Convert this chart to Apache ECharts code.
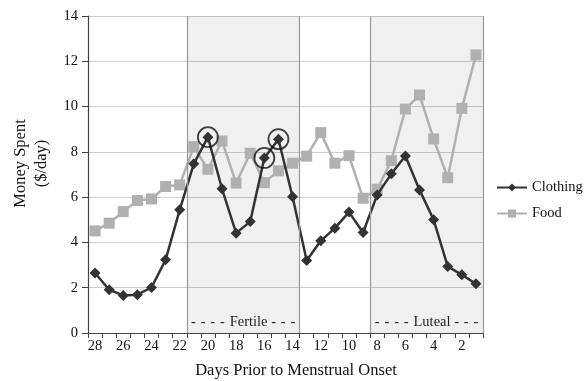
<!DOCTYPE html>
<html>
<head>
<meta charset="utf-8">
<script src="https://cdn.jsdelivr.net/npm/echarts@6/dist/echarts.min.js"></script>
<style>html,body{margin:0;padding:0;background:#fff}#c{width:586px;height:381px}</style>
</head>
<body>
<div id="c"></div>
<script>
var days = [28,27,26,25,24,23,22,21,20,19,18,17,16,15,14,13,12,11,10,9,8,7,6,5,4,3,2,1];
var clothing = [2.65,1.91,1.66,1.69,2.01,3.23,5.44,7.47,8.65,6.37,4.41,4.92,7.73,8.56,6.02,3.2,4.07,4.63,5.34,4.44,6.1,7.03,7.82,6.32,5.0,2.94,2.57,2.17];
var food = [4.51,4.85,5.36,5.85,5.92,6.47,6.54,8.23,7.23,8.48,6.62,7.94,6.64,7.16,7.5,7.81,8.85,7.5,7.83,5.95,6.35,7.61,9.89,10.51,8.57,6.86,9.92,12.28];
var circledDays = [20,16,15];
var yTicks = [0,2,4,6,8,10,12,14];
var phases = [
  {name: '-\u200A -\u200A -\u200A -\u200A Fertile -\u200A -\u200A -', from: 21, to: 14},
  {name: '-\u200A -\u200A -\u200A -\u200A Luteal -\u200A -\u200A -', from: 8, to: 1}
];
var dividerDays = [21, 13, 8];

var cats = days.map(String);
function idx(d){ return days.indexOf(d); }
var font = '"Liberation Serif", "DejaVu Serif", serif';

var chart = echarts.init(document.getElementById('c'));
chart.setOption({
  animation: false,
  textStyle: {fontFamily: font},
  grid: {left: 88, right: 103, top: 16, bottom: 48, containLabel: false, outerBoundsMode: 'none'},
  legend: {
    orient: 'vertical', left: 496, top: 180, itemWidth: 30, itemHeight: 10, itemGap: 11, padding: 0,
    data: ['Clothing', 'Food'],
    textStyle: {fontFamily: font, fontSize: 14.5, color: '#111'}
  },
  xAxis: [{
    type: 'category', data: cats, boundaryGap: true,
    name: 'Days Prior to Menstrual Onset', nameLocation: 'middle', nameGap: 29,
    nameTextStyle: {fontFamily: font, fontSize: 16.5, color: '#111', padding: [0,0,0,21]},
    axisLine: {lineStyle: {color: '#444', width: 1.2}},
    axisTick: {show: true, interval: 0, alignWithLabel: false, length: 5, lineStyle: {color: '#444'}},
    axisLabel: {interval: 1, fontFamily: font, fontSize: 14.5, color: '#111', margin: 6},
    splitLine: {show: false}
  }, {
    type: 'value', min: 0, max: days.length, show: false
  }],
  yAxis: {
    type: 'value', min: yTicks[0], max: yTicks[yTicks.length-1], interval: 2,
    name: 'Money Spent\n($/day)', nameLocation: 'middle', nameGap: 30, nameRotate: 90,
    nameTextStyle: {fontFamily: font, fontSize: 16.5, color: '#111', lineHeight: 21, padding: [0,0,0,22]},
    axisLine: {show: true, lineStyle: {color: '#444', width: 1.2}},
    axisTick: {show: true, length: 6, lineStyle: {color: '#444'}},
    axisLabel: {fontFamily: font, fontSize: 14.5, color: '#111', margin: 10},
    splitLine: {lineStyle: {color: '#cfcfcf', width: 1.2}}
  },
  series: [{
    name: 'regions', type: 'line', xAxisIndex: 1, data: [[0, -5]], showSymbol: false, silent: true,
    lineStyle: {opacity: 0}, z: 1,
    markArea: {
      silent: true,
      itemStyle: {color: 'rgba(0,0,0,0.06)'},
      label: {position: 'insideBottom', distance: 3, fontFamily: font, fontSize: 14.5, color: '#222'},
      data: phases.map(function(p){
        return [{name: p.name, xAxis: idx(p.from)}, {xAxis: idx(p.to) + 1}];
      })
    },
    markLine: {
      silent: true, symbol: 'none', label: {show: false},
      lineStyle: {color: '#999', width: 1.2, type: 'solid'},
      data: dividerDays.map(function(d){ return {xAxis: idx(d)}; }).concat([{xAxis: days.length}])
    }
  }, {
    name: 'Food', type: 'line', data: food, symbol: 'rect', symbolSize: 11, z: 3, showAllSymbol: true,
    itemStyle: {color: '#b0b0b0'}, lineStyle: {color: '#b0b0b0', width: 2.5}
  }, {
    name: 'Clothing', type: 'line', data: clothing, symbol: 'diamond', symbolSize: 11, z: 4, showAllSymbol: true,
    itemStyle: {color: '#333'}, lineStyle: {color: '#333', width: 2.5}
  }, {
    name: 'circled', type: 'scatter', z: 5, symbol: 'circle', symbolSize: 20, silent: true,
    data: circledDays.map(function(d){ return [String(d), clothing[idx(d)]]; }),
    itemStyle: {color: 'rgba(0,0,0,0)', borderColor: '#111', borderWidth: 1.8}
  }]
});
</script>
</body>
</html>
